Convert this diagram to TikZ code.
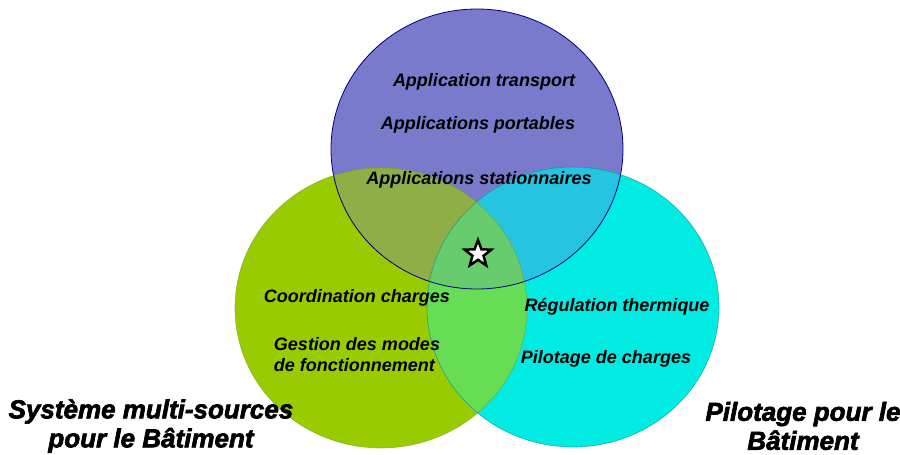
\documentclass[tikz,border=0pt]{standalone}
\usepackage{fontspec}
\setmainfont{Liberation Sans}
\newfontfamily\heavyfont{Liberation Sans}[FakeBold=2.5]
\usetikzlibrary{shapes.geometric}

\definecolor{topblue}{HTML}{7A7ACC}
\definecolor{leftgreen}{HTML}{99CC00}
\definecolor{rightcyan}{HTML}{00ECE2}
\definecolor{tlolive}{HTML}{8FAE48}
\definecolor{trblue}{HTML}{25C4E0}
\definecolor{lrgreen}{HTML}{66DD55}
\definecolor{allgreen}{HTML}{66CC6E}

\begin{document}
\begin{tikzpicture}[
    x=1pt, y=-1pt,
    % Styles
    set/.style={x radius=146, y radius=140},             % one circle of the diagram
    item/.style={font=\bfseries\itshape\fontsize{18}{21}\selectfont, inner sep=0pt},  % text inside
    title/.style={font=\heavyfont\bfseries\itshape\fontsize{26}{29}\selectfont, inner sep=0pt, align=center}  % big labels
]
  \useasboundingbox (0,0) rectangle (900,455);

  % Centres of the three circles
  \coordinate (top) at (477,149);
  \coordinate (lft) at (381,308);
  \coordinate (rgt) at (573,307);

  % Circles
  \fill[topblue] (top) ellipse [set];
  \fill[leftgreen] (lft) ellipse [set];
  \fill[rightcyan] (rgt) ellipse [set];

  % Overlaps
  \begin{scope}
    \clip (top) ellipse [set];
    \fill[tlolive] (lft) ellipse [set];
    \fill[trblue] (rgt) ellipse [set];
  \end{scope}
  \begin{scope}
    \clip (lft) ellipse [set];
    \fill[lrgreen] (rgt) ellipse [set];
    \clip (top) ellipse [set];
    \fill[allgreen] (rgt) ellipse [set];
  \end{scope}

  % Outlines
  \draw[draw=blue!50!black, line width=0.8pt] (top) ellipse [set];
  \draw[draw=olive!70!green, opacity=0.6, line width=0.6pt] (lft) ellipse [set];
  \draw[draw=teal, opacity=0.6, line width=0.6pt] (rgt) ellipse [set];

  % Star in the centre
  \node[star, star points=5, star point ratio=2.4, minimum size=28pt, inner sep=0pt,
        fill=white, draw=black, line width=2.5pt] (core) at (478,254) {};

  % Texts of the top circle
  \node[item] (transport) at (484,82) {Application transport};
  \node[item] (portable) at (478,125) {Applications portables};
  \node[item] (station) at (479,180) {Applications stationnaires};

  % Texts of the left circle
  \node[item] (coord) at (357,298) {Coordination charges};
  \node[item, align=left] (gestion) at (357,355) {Gestion des modes\\de fonctionnement};

  % Texts of the right circle
  \node[item] (regul) at (617,307) {Régulation thermique};
  \node[item] (pilot) at (606,359) {Pilotage de charges};

  % Big labels
  \node[title] (multi) at (151,426) {Système multi-sources\\pour le Bâtiment};
  \node[title] (batiment) at (803,426) {Pilotage pour le\\Bâtiment};

\end{tikzpicture}
\end{document}
